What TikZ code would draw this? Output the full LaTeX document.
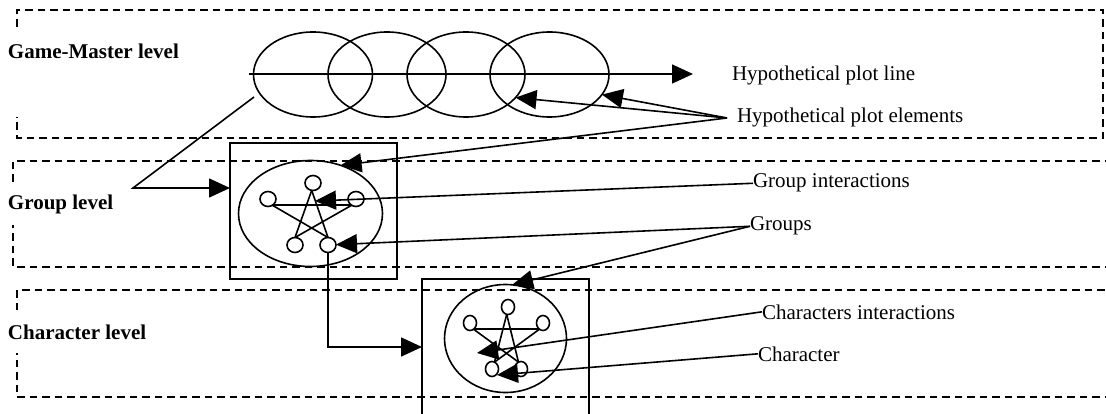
\documentclass[tikz,border=0pt]{standalone}
\usepackage{fontspec}
\setmainfont{Liberation Serif}
\usetikzlibrary{arrows.meta,shapes.geometric}
\begin{document}
\begin{tikzpicture}[x=1pt,y=-1pt,
  every node/.style={inner sep=0pt, outer sep=0pt},
  frame/.style={line width=1.8pt, dash pattern=on 7.5pt off 5pt},
  pen/.style={line width=1.6pt},
  conn/.style={pen, -{Triangle[length=21pt,width=19pt]}},
  lbl/.style={font=\fontsize{21}{24}\selectfont, anchor=base west},
  lvl/.style={font=\fontsize{21}{24}\selectfont\bfseries, anchor=base west},
  blob/.style={draw, pen, ellipse},
  box/.style={draw, pen, rectangle, minimum width=167pt, minimum height=136pt},
  gdot/.style={blob, minimum width=16pt, minimum height=15pt},
  cdot/.style={blob, minimum width=13pt, minimum height=15pt}]
\useasboundingbox (0,0) rectangle (1106,414);

% level frames, left side left open beside the level names
\draw[frame] (17,27) -- (17,10) -- (1103,10) -- (1103,138) -- (17,138) -- (17,117);
\draw[frame] (13,182) -- (13,161) -- (1112,161) (1112,267) -- (13,267) -- (13,225);
\draw[frame] (17,310) -- (17,290) -- (1112,290) (1112,397) -- (17,397) -- (17,353);

\node[lvl] (gmlvl) at (8,59) {Game-Master level};
\node[lvl] (grlvl) at (8,210) {Group level};
\node[lvl] (chlvl) at (8,339) {Character level};

% plot elements on the plot line
\node[blob, minimum width=119pt, minimum height=85pt] (e1) at (313,74.5) {};
\node[blob, minimum width=118pt, minimum height=85pt] (e2) at (387,74.5) {};
\node[blob, minimum width=118pt, minimum height=85pt] (e3) at (466,74.5) {};
\node[blob, minimum width=119pt, minimum height=85pt] (e4) at (549.5,74.5) {};
\coordinate (pstart) at (249,74);
\coordinate (ptip) at (693,74);
\draw[conn] (pstart) -- (ptip);
\node[lbl] (pline) at (732,81) {Hypothetical plot line};
\node[lbl, inner xsep=10pt] (pelem) at (727,123) {Hypothetical plot elements};

% group
\node[box] (grect) at (313.5,211) {};
\node[blob, minimum width=144pt, minimum height=106pt] (ge) at (310.5,213.5) {};
\node[gdot] (gT) at (313,183) {};
\node[gdot] (gL) at (268,199) {};
\node[gdot] (gR) at (356,199) {};
\node[gdot] (gBL) at (295,245) {};
\node[gdot] (gBR) at (328,245) {};
\draw[pen] (gL.-55) -- (gR.-125);
\draw[pen] (gL.-55) -- (gBR.north);
\draw[pen] (gR.-125) -- (gBL.north);
\draw[pen] (gT.-100) -- (gBL.north);
\draw[pen] (gT.-100) -- (gBR.north);

% characters
\node[box] (crect) at (505.5,347) {};
\node[blob, minimum width=122pt, minimum height=108pt] (ce) at (505.5,338.5) {};
\node[cdot] (cT) at (508,307) {};
\node[cdot] (cL) at (470,323) {};
\node[cdot] (cR) at (543,323) {};
\node[cdot] (cBL) at (492,369) {};
\node[cdot] (cBR) at (521,369) {};
\draw[pen] (cL.-60) -- (cR.-120);
\draw[pen] (cL.-60) -- (cBR.110);
\draw[pen] (cR.-120) -- (cBL.70);
\draw[pen] (cT.-100) -- (cBL.70);
\draw[pen] (cT.-100) -- (cBR.110);

% links between levels
\coordinate (gmfoot) at (254,97);
\coordinate (gmknee) at (133,188);
\draw[conn] (gmfoot) -- (gmknee) -- (gmknee -| grect.west);
\draw[conn] (gBR.south) |- (crect.west);

% plot element callouts
\draw[conn] (pelem.west) -- (e3.-25);
\draw[conn] (pelem.west) -- (e4.-21);
\draw[conn] (pelem.west) -- (ge.58);

% group callouts
\node[lbl] (gi) at (753,188) {Group interactions};
\coordinate (gistar) at (315,201);
\draw[conn] (gi.west) -- (gistar);
\node[lbl] (grp) at (750,231) {Groups};
\draw[conn] (grp.west) -- (gBR);
\draw[conn] (grp.west) -- (ce.83);

% character callouts
\node[lbl] (cint) at (762,319) {Characters interactions};
\coordinate (cistar) at (477,353);
\draw[conn] (cint.west) -- (cistar);
\node[lbl] (chr) at (758,361) {Character};
\coordinate (chrtip) at (497,375);
\draw[conn] (chr.west) -- (chrtip);
\end{tikzpicture}
\end{document}
